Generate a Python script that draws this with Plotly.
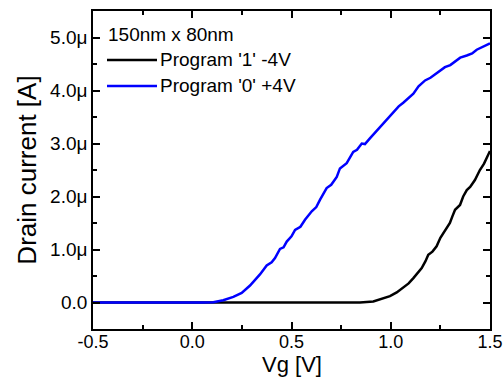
import plotly.graph_objects as go

# ---------------- data ----------------
vg_prog0 = [-0.5, -0.4, -0.3, -0.2, -0.1, 0.0, 0.05, 0.106, 0.156, 0.207, 0.249,
            0.291, 0.32, 0.341, 0.375, 0.40, 0.417, 0.442, 0.46, 0.476, 0.50, 0.518,
            0.545, 0.568, 0.602, 0.625, 0.644, 0.677, 0.70, 0.728, 0.744, 0.778,
            0.811, 0.83, 0.854, 0.87, 0.896, 0.92, 0.946, 0.98, 1.013, 1.04, 1.063,
            1.09, 1.114, 1.14, 1.173, 1.20, 1.231, 1.25, 1.273, 1.30, 1.324, 1.35,
            1.383, 1.41, 1.433, 1.46, 1.48, 1.497, 1.5]
i_prog0_uA = [0.0, 0.0, -0.01, 0.0, 0.0, 0.0, 0.0, 0.006, 0.043, 0.107, 0.18,
              0.32, 0.44, 0.53, 0.70, 0.76, 0.84, 1.01, 1.04, 1.15, 1.25, 1.37,
              1.43, 1.56, 1.72, 1.80, 1.94, 2.16, 2.22, 2.37, 2.53, 2.63,
              2.84, 2.88, 3.0, 2.99, 3.10, 3.2, 3.31, 3.45, 3.60, 3.70, 3.77,
              3.86, 3.94, 4.08, 4.19, 4.24, 4.32, 4.37, 4.44, 4.48, 4.55, 4.62,
              4.66, 4.70, 4.77, 4.82, 4.86, 4.88, 4.89]

vg_prog1 = [-0.5, -0.3, -0.1, 0.1, 0.3, 0.5, 0.7, 0.845, 0.912, 0.95, 0.996, 1.03,
            1.063, 1.09, 1.114, 1.156, 1.175, 1.189, 1.21, 1.231, 1.25, 1.265, 1.298,
            1.31, 1.324, 1.349, 1.365, 1.383, 1.40, 1.424, 1.449, 1.47, 1.491, 1.5]
i_prog1_uA = [0.0, 0.0, 0.0, 0.0, -0.01, 0.0, 0.0, 0.0, 0.02, 0.06, 0.12, 0.19,
              0.28, 0.36, 0.46, 0.65, 0.78, 0.90, 0.96, 1.06, 1.22, 1.31, 1.50,
              1.62, 1.75, 1.84, 2.0, 2.12, 2.18, 2.31, 2.50, 2.62, 2.81, 2.86]

series_names = ["Program '1' -4V", "Program '0' +4V"]
legend_title = "150nm x 80nm"

x_tickvals = [-0.5, 0.0, 0.5, 1.0, 1.5]
x_ticktext = ["-0.5", "0.0", "0.5", "1.0", "1.5"]
y_tickvals_uA = [0, 1, 2, 3, 4, 5]
y_ticktext = ["0.0", "1.0\u03bc", "2.0\u03bc", "3.0\u03bc", "4.0\u03bc", "5.0\u03bc"]
y_minor_uA = [0.5, 1.5, 2.5, 3.5, 4.5]
x_minor = [-0.25, 0.25, 0.75, 1.25]

x_title = "Vg [V]"
y_title = "Drain current [A]"

# ---------------- figure ----------------
FONT = "Arial, Liberation Sans, sans-serif"
colors = ["#000000", "#0000ff"]

fig = go.Figure()
fig.add_trace(go.Scatter(x=vg_prog1, y=[v * 1e-6 for v in i_prog1_uA], mode="lines",
                         name=series_names[0], line=dict(color=colors[0], width=2.5),
                         showlegend=False))
fig.add_trace(go.Scatter(x=vg_prog0, y=[v * 1e-6 for v in i_prog0_uA], mode="lines",
                         name=series_names[1], line=dict(color=colors[1], width=2.5),
                         showlegend=False))

L, R, T, B = 93, 14, 11, 50
W, H = 504, 379
pw, ph = W - L - R, H - T - B


def px(x):
    return (x - L) / pw


def py(y):
    return (H - B - y) / ph


axis_common = dict(showline=True, linecolor="black", linewidth=1.5, mirror="allticks",
                   ticks="inside", ticklen=7, tickwidth=1.5, tickcolor="black",
                   showgrid=False, zeroline=False)

fig.update_xaxes(range=[-0.5, 1.5], tickmode="array", tickvals=x_tickvals, ticktext=x_ticktext,
                 tickfont=dict(family=FONT, size=18, color="black"), ticklabelstandoff=-4,
                 minor=dict(ticks="inside", ticklen=4, tickwidth=1.5, tickcolor="black",
                            tickmode="array", tickvals=x_minor),
                 **axis_common)
fig.update_yaxes(range=[-0.5e-6, 5.5e-6], tickmode="array",
                 tickvals=[v * 1e-6 for v in y_tickvals_uA], ticktext=y_ticktext,
                 tickfont=dict(family=FONT, size=19, color="black"),
                 minor=dict(ticks="inside", ticklen=4, tickwidth=1.5, tickcolor="black",
                            tickmode="array", tickvals=[v * 1e-6 for v in y_minor_uA]),
                 title=dict(text=y_title, font=dict(family=FONT, size=26, color="black"), standoff=6),
                 **axis_common)

# x-axis title pinned to the bottom edge, centred under the plot area
fig.add_annotation(xref="paper", yref="paper", x=0.5, y=py(H), xanchor="center", yanchor="bottom",
                   text=x_title, showarrow=False, font=dict(family=FONT, size=22, color="black"))

# legend drawn manually (title + line samples + labels)
fig.add_annotation(xref="paper", yref="paper", x=px(106), y=py(35), xanchor="left", yanchor="middle",
                   text=legend_title, showarrow=False, font=dict(family=FONT, size=19, color="black"))
for i, yy in enumerate([60, 86]):
    fig.add_shape(type="line", xref="paper", yref="paper", x0=px(107), x1=px(157),
                  y0=py(yy), y1=py(yy), line=dict(color=colors[i], width=2.5))
    fig.add_annotation(xref="paper", yref="paper", x=px(158), y=py(yy), xanchor="left",
                       yanchor="middle", text=series_names[i], showarrow=False,
                       font=dict(family=FONT, size=19, color="black"))

fig.update_layout(width=W, height=H, margin=dict(l=L, r=R, t=T, b=B, autoexpand=False),
                  plot_bgcolor="white", paper_bgcolor="white",
                  font=dict(family=FONT, color="black"))

fig.write_html("out.html")
